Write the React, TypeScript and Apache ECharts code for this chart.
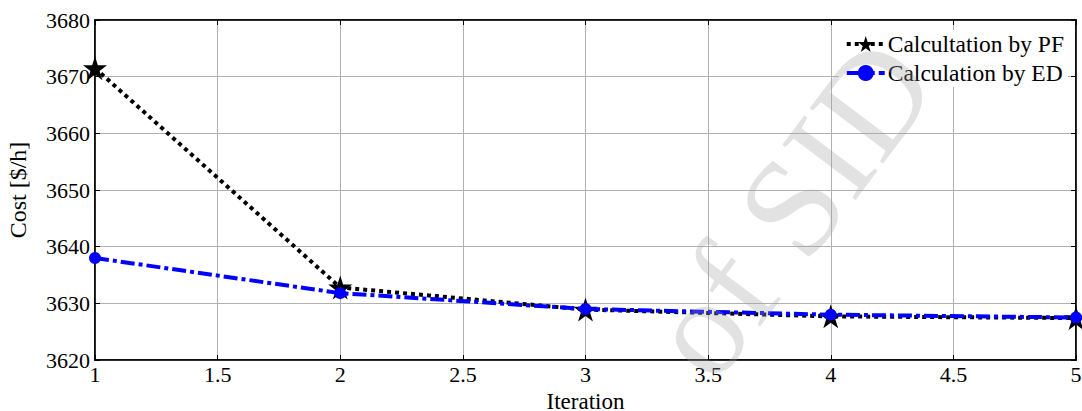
import React, { useEffect, useRef } from "react";
import * as echarts from "echarts";

const iterations = [1, 2, 3, 4, 5];
const costPF = [3671.5, 3632.8, 3628.9, 3627.7, 3627.4];
const costED = [3638.0, 3631.8, 3629.0, 3628.0, 3627.5];
const seriesNames = ["Calcultation by PF", "Calculation by ED"];

const FONT = "'Liberation Serif', 'Times New Roman', serif";

export default function App() {
  const ref = useRef<HTMLDivElement>(null);
  useEffect(() => {
    document.body.style.margin = "0";
    const chart = echarts.init(ref.current!, null, { renderer: "svg" });
    const tickAxisCommon = {
      axisLine: { show: true, lineStyle: { color: "#000", width: 1.5 } },
      axisTick: { show: true, inside: true, length: 5, lineStyle: { color: "#000" } },
    };
    chart.setOption({
      animation: false,
      backgroundColor: "#fff",
      textStyle: { fontFamily: FONT },
      grid: {
        left: 95,
        right: 6,
        top: 20,
        bottom: 51,
        show: true,
        borderColor: "#000",
        borderWidth: 1.5,
        outerBoundsMode: "none",
        containLabel: false,
      },
      legend: {
        orient: "vertical",
        right: 14,
        top: 30,
        itemWidth: 38,
        itemHeight: 20,
        itemGap: 5,
        padding: [2, 4, 2, 6],
        backgroundColor: "#fff",
        textStyle: { fontFamily: FONT, fontSize: 23.5, color: "#000", padding: [0, 0, 0, -2] },
        data: [
          { name: seriesNames[0], lineStyle: { width: 4, type: [4, 4], color: "#000" } },
          { name: seriesNames[1], lineStyle: { width: 4, type: [12, 4], color: "#0000ff" } },
        ],
      },
      xAxis: [
        {
          type: "value",
          min: 1,
          max: 5,
          interval: 0.5,
          name: "Iteration",
          nameLocation: "middle",
          nameGap: 16,
          nameTextStyle: { fontFamily: FONT, fontSize: 23, color: "#000", lineHeight: 23 },
          axisLabel: { fontFamily: FONT, fontSize: 22, color: "#000", margin: 3 },
          splitLine: { show: true, lineStyle: { color: "#b0b0b0", width: 1 } },
          ...tickAxisCommon,
        },
        {
          type: "value",
          position: "top",
          min: 1,
          max: 5,
          interval: 0.5,
          axisLabel: { show: false },
          splitLine: { show: false },
          ...tickAxisCommon,
        },
      ],
      yAxis: [
        {
          type: "value",
          min: 3620,
          max: 3680,
          interval: 10,
          name: "Cost [$/h]",
          nameLocation: "middle",
          nameGap: 65,
          nameTextStyle: { fontFamily: FONT, fontSize: 24, color: "#000" },
          axisLabel: { fontFamily: FONT, fontSize: 22, color: "#000", margin: 5, formatter: (v: number) => String(v) },
          splitLine: { show: true, lineStyle: { color: "#b0b0b0", width: 1 } },
          ...tickAxisCommon,
        },
        {
          type: "value",
          position: "right",
          min: 3620,
          max: 3680,
          interval: 10,
          axisLabel: { show: false },
          splitLine: { show: false },
          ...tickAxisCommon,
        },
      ],
      series: [
        {
          name: seriesNames[0],
          type: "line",
          data: iterations.map((x, i) => [x, costPF[i]]),
          symbol: "path://M50,0 L61.8,36.2 L100,36.2 L69.1,58.8 L80.9,95.1 L50,72.7 L19.1,95.1 L30.9,58.8 L0,36.2 L38.2,36.2 Z",
          symbolSize: 24,
          itemStyle: { color: "#000" },
          lineStyle: { color: "#000", width: 4, type: [4, 4] },
          z: 2,
        },
        {
          name: seriesNames[1],
          type: "line",
          data: iterations.map((x, i) => [x, costED[i]]),
          symbol: "circle",
          symbolSize: 12,
          itemStyle: { color: "#0000ff" },
          lineStyle: { color: "#0000ff", width: 4, type: [14, 4, 4, 4] },
          z: 3,
        },
      ],
      graphic: [
        {
          type: "text",
          x: 790,
          y: 208,
          rotation: (53 * Math.PI) / 180,
          z: 100,
          silent: true,
          style: {
            text: "of SID",
            font: `140px ${FONT}`,
            fill: "rgba(160,160,160,0.3)",
            align: "center",
            verticalAlign: "middle",
          },
        },
      ],
    });
    return () => chart.dispose();
  }, []);
  return <div ref={ref} style={{ width: 1082, height: 411 }} />;
}
